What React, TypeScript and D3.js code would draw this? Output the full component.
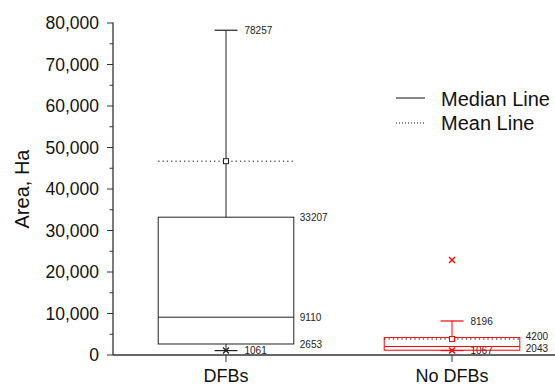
import React, { useEffect, useRef } from 'react';
import * as d3 from 'd3';

const categories = ['DFBs', 'No DFBs'];
const whiskerLow = [1061, 1067];
const q1 = [2653, 1150];
const median = [9110, 2043];
const q3 = [33207, 4200];
const whiskerHigh = [78257, 8196];
const means = [46700, 3850];
const outliers = [[], [22900]];
const colors = ['#222222', '#ff0000'];
const yTicks = [0, 10000, 20000, 30000, 40000, 50000, 60000, 70000, 80000];

const W = 555;
const H = 385;
const FONT = '"Liberation Sans", Arial, Helvetica, sans-serif';

const App = () => {
  const svgRef = useRef<SVGSVGElement>(null);

  useEffect(() => {
    const svg = d3.select(svgRef.current);
    svg.selectAll('*').remove();

    const x = d3.scaleBand().domain(categories).range([113, 565]).paddingInner(0);
    const y = d3.scaleLinear().domain([0, 80000]).range([355, 23]);
    const boxW = x.bandwidth() * 0.6;
    const capW = 23;

    const g = svg.append('g').style('font-family', FONT);

    // y axis
    const minor = d3.range(5000, 80000, 10000);
    g.selectAll('.minor')
      .data(minor)
      .join('line')
      .attr('x1', 109.5)
      .attr('x2', 113)
      .attr('y1', (d) => y(d))
      .attr('y2', (d) => y(d))
      .attr('stroke', '#333');
    g.selectAll('.major')
      .data(yTicks)
      .join('line')
      .attr('x1', 107)
      .attr('x2', 113)
      .attr('y1', (d) => y(d))
      .attr('y2', (d) => y(d))
      .attr('stroke', '#333');
    g.selectAll('.ylab')
      .data(yTicks)
      .join('text')
      .attr('x', 99)
      .attr('y', (d) => y(d))
      .attr('dy', '0.36em')
      .attr('text-anchor', 'end')
      .style('font-size', '17.5px')
      .attr('fill', '#111')
      .text((d) => d3.format(',')(d));
    g.append('line')
      .attr('x1', 113).attr('x2', 113)
      .attr('y1', y(80000) - 0.5).attr('y2', y(0))
      .attr('stroke', '#333').attr('stroke-width', 1.3);

    g.append('text')
      .attr('transform', `translate(22,189) rotate(-90)`)
      .attr('text-anchor', 'middle')
      .attr('dy', '0.36em')
      .style('font-size', '20px')
      .attr('fill', '#111')
      .text('Area, Ha');

    // x axis
    g.append('line')
      .attr('x1', 113).attr('x2', 565)
      .attr('y1', y(0)).attr('y2', y(0))
      .attr('stroke', '#333').attr('stroke-width', 1.3);
    categories.forEach((c) => {
      const cx = x(c)! + x.bandwidth() / 2;
      g.append('line')
        .attr('x1', cx).attr('x2', cx)
        .attr('y1', y(0)).attr('y2', y(0) + 7)
        .attr('stroke', '#333');
      g.append('text')
        .attr('x', cx)
        .attr('y', 382)
        .attr('text-anchor', 'middle')
        .style('font-size', '18px')
        .attr('fill', '#111')
        .text(c);
    });

    // boxes
    categories.forEach((c, i) => {
      const cx = x(c)! + x.bandwidth() / 2;
      const col = colors[i];
      const bx = cx - boxW / 2;
      const bg = g.append('g');

      // whiskers
      bg.append('line')
        .attr('x1', cx).attr('x2', cx)
        .attr('y1', y(q3[i])).attr('y2', y(whiskerHigh[i]))
        .attr('stroke', col);
      bg.append('line')
        .attr('x1', cx).attr('x2', cx)
        .attr('y1', y(q1[i])).attr('y2', y(whiskerLow[i]))
        .attr('stroke', col);
      [whiskerHigh[i], whiskerLow[i]].forEach((v) => {
        bg.append('line')
          .attr('x1', cx - capW / 2).attr('x2', cx + capW / 2)
          .attr('y1', y(v)).attr('y2', y(v))
          .attr('stroke', col).attr('stroke-width', 1.2);
        bg.append('text')
          .attr('x', cx + capW / 2 + 7)
          .attr('y', y(v))
          .attr('dy', '0.36em')
          .style('font-size', '10px')
          .attr('fill', '#222')
          .text(v);
      });

      // box
      bg.append('rect')
        .attr('x', bx)
        .attr('y', y(q3[i]))
        .attr('width', boxW)
        .attr('height', y(q1[i]) - y(q3[i]))
        .attr('fill', 'none')
        .attr('stroke', col);
      bg.append('line')
        .attr('x1', bx).attr('x2', bx + boxW)
        .attr('y1', y(median[i])).attr('y2', y(median[i]))
        .attr('stroke', col);

      const boxLabels = i === 0 ? [q3[i], median[i], q1[i]] : [q3[i], median[i]];
      const nudge = i === 0 ? [0, 0, 0] : [-1.5, 1.5];
      boxLabels.forEach((v, k) => {
        bg.append('text')
          .attr('x', bx + boxW + 6)
          .attr('y', y(v) + nudge[k])
          .attr('dy', '0.36em')
          .style('font-size', '10px')
          .attr('fill', '#222')
          .text(v);
      });

      // mean line and marker
      bg.append('line')
        .attr('x1', bx).attr('x2', bx + boxW)
        .attr('y1', y(means[i])).attr('y2', y(means[i]))
        .attr('stroke', '#111')
        .attr('stroke-dasharray', '1.3 3');
      bg.append('rect')
        .attr('x', cx - 2.5)
        .attr('y', y(means[i]) - 2.5)
        .attr('width', 5)
        .attr('height', 5)
        .attr('fill', 'white')
        .attr('stroke', i === 0 ? '#222' : col);

      // min marker (x)
      const my = y(whiskerLow[i]);
      bg.append('path')
        .attr('d', `M${cx - 3},${my - 3}L${cx + 3},${my + 3}M${cx - 3},${my + 3}L${cx + 3},${my - 3}`)
        .attr('stroke', col)
        .attr('stroke-width', 1.4);

      // outliers
      outliers[i].forEach((v) => {
        const oy = y(v);
        bg.append('path')
          .attr('d', `M${cx - 3},${oy - 3}L${cx + 3},${oy + 3}M${cx - 3},${oy + 3}L${cx + 3},${oy - 3}`)
          .attr('stroke', col)
          .attr('stroke-width', 1.4);
      });
    });

    // legend
    const lg = g.append('g');
    lg.append('line')
      .attr('x1', 396).attr('x2', 425)
      .attr('y1', 98).attr('y2', 98)
      .attr('stroke', '#111');
    lg.append('text')
      .attr('x', 441).attr('y', 106)
      .style('font-size', '20px')
      .attr('fill', '#111')
      .text('Median Line');
    lg.append('line')
      .attr('x1', 396).attr('x2', 425)
      .attr('y1', 123).attr('y2', 123)
      .attr('stroke', '#111')
      .attr('stroke-dasharray', '1 2');
    lg.append('text')
      .attr('x', 441).attr('y', 130)
      .style('font-size', '20px')
      .attr('fill', '#111')
      .text('Mean Line');
  }, []);

  return (
    <svg
      ref={svgRef}
      width={W}
      height={H}
      style={{ position: 'absolute', left: 0, top: 0, background: 'white' }}
    />
  );
};

export default App;
